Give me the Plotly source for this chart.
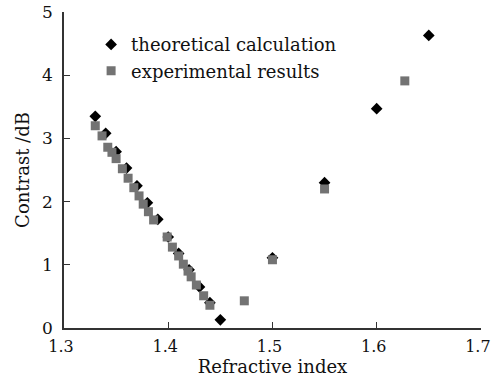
import plotly.graph_objects as go

theory_n = [1.33, 1.34, 1.35, 1.36, 1.37, 1.38, 1.39, 1.40, 1.41, 1.42, 1.43, 1.44, 1.45,
            1.50, 1.55, 1.60, 1.65]
theory_c = [3.35, 3.08, 2.79, 2.53, 2.25, 1.98, 1.72, 1.44, 1.18, 0.92, 0.65, 0.40, 0.13,
            1.11, 2.30, 3.47, 4.63]

exp_n = [1.330, 1.3365, 1.342, 1.346, 1.350, 1.356, 1.3615, 1.367, 1.372, 1.376, 1.381,
         1.386, 1.399, 1.404, 1.410, 1.4145, 1.419, 1.422, 1.427, 1.434, 1.440,
         1.473, 1.500, 1.550, 1.627]
exp_c = [3.20, 3.04, 2.86, 2.78, 2.68, 2.52, 2.37, 2.22, 2.09, 1.96, 1.84,
         1.71, 1.44, 1.28, 1.14, 1.01, 0.90, 0.81, 0.68, 0.51, 0.36,
         0.43, 1.08, 2.20, 3.91]

x_ticks = [1.3, 1.4, 1.5, 1.6, 1.7]
y_ticks = [0, 1, 2, 3, 4, 5]

font = "DejaVu Serif"
fs = 18

fig = go.Figure()
fig.add_trace(go.Scatter(
    x=theory_n, y=theory_c, mode="markers", name="theoretical calculation",
    marker=dict(symbol="diamond", size=9, color="#000000"),
    cliponaxis=False))
fig.add_trace(go.Scatter(
    x=exp_n, y=exp_c, mode="markers", name="experimental results",
    marker=dict(symbol="square", size=9, color="#737373"),
    cliponaxis=False))

axis_common = dict(showline=True, linecolor="#333333", linewidth=1.5,
                   ticks="inside", ticklen=6, tickwidth=1.2, tickcolor="#333333",
                   showgrid=False, zeroline=False, ticklabeloverflow="allow",
                   automargin=False)

fig.update_layout(
    width=492, height=377,
    margin=dict(l=64, r=11, t=12, b=49),
    paper_bgcolor="white", plot_bgcolor="white",
    font=dict(family=font, size=fs, color="#111"),
    xaxis=dict(range=[1.3, 1.7001], tickvals=x_ticks, ticktext=[f"{v:.1f}" for v in x_ticks],
               title=dict(text="Refractive index", font=dict(family=font, size=fs), standoff=0),
               ticklabelstandoff=3, ticklabelshift=-3,
               tickfont=dict(family=font, size=16, color="#111"),
               **axis_common),
    yaxis=dict(range=[0, 5.0001], tickvals=y_ticks, ticktext=[str(v) for v in y_ticks],
               title=dict(text="Contrast /dB", font=dict(family=font, size=fs), standoff=8),
               ticklabelstandoff=6,
               tickfont=dict(family=font, size=17, color="#111"),
               **axis_common),
    legend=dict(x=0.065, y=0.955, xanchor="left", yanchor="top",
                bgcolor="rgba(0,0,0,0)",
                font=dict(family=font, size=fs, color="#111"),
                itemsizing="trace", tracegroupgap=0),
    showlegend=True,
)

fig.write_html("out.html")
